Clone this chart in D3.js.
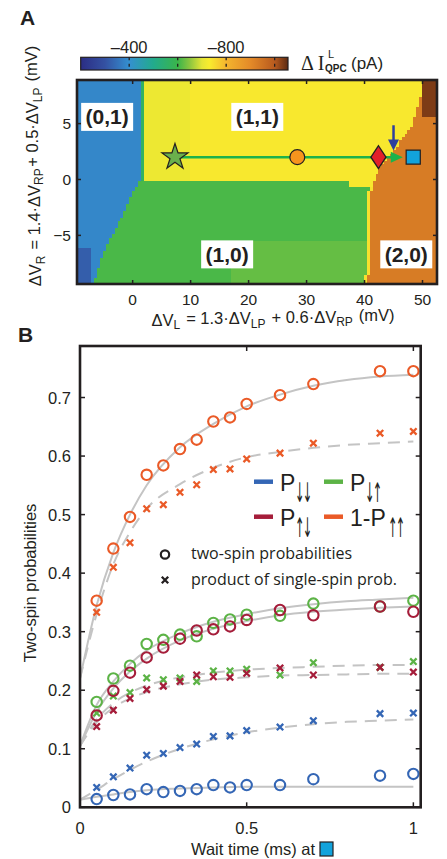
<!DOCTYPE html>
<html>
<head>
<meta charset="utf-8">
<script src="https://cdn.jsdelivr.net/npm/d3@7"></script>
<style>
  body { margin: 0; background: #fff; }
  svg { display: block; }
  text { font-family: "Liberation Sans", Arial, sans-serif; fill: #231f20; }
</style>
</head>
<body>
<svg id="fig" width="447" height="859"></svg>
<script>
// ---------- panel A : charge stability map ----------
var xDomainA = [-9.6, 52.5];
var yDomainA = [-9.35, 8.9];
var xTicksA = [0, 10, 20, 30, 40, 50];
var yTicksA = [-5, 0, 5];

// colour map of the colour bar (pA -> colour)
var cmapValues = [-200, -300, -400, -500, -600, -650, -700, -730, -800, -900, -1000, -1055];
var cmapColors = ["#2b2d84", "#3451a2", "#3490d0", "#22ab8c", "#3ab54a", "#8cc63f", "#e4e536", "#f8ec2e", "#f4b52e", "#e48a28", "#b85a1e", "#5c2a12"];
var cbarTicks = [-400, -600, -800, -1000];
var cbarLabels = [-400, -800];

// region boundaries (x in mV as a function of y in mV)
var leftEdgeY = [8.9, 0.2, -3.3, -6.2, -9.35];
var leftEdgeX = [1.3, 1.3, -1.9, -4.8, -6.8];
var rightEdgeY = [8.9, 7, 5, 4, 3, 2, 1, 0, -1, -9.35];
var rightEdgeX = [50, 49.5, 48.3, 47, 45.5, 44, 42.5, 41.7, 41.1, 40.6];
var midEdgeX = [37.5];          // where the (1,1)/(1,0) border steps down
var midEdgeY = [0.0, -0.8];
// mean signal of each charge state (pA)
var regionNames = ["(0,1)", "(1,1)", "(1,0)", "(2,0)"];
var regionLevels = [-385, -735, -610, -930];
var regionLabelX = [-4.4, 21.5, 16.3, 47.2];
var regionLabelY = [5.6, 5.6, -6.7, -6.7];
// finer shading seen inside the regions (pA)
var shadeBottomLeft = -320;
var shadeLeftYellow = -714;
var shadeGreenBorder = -565;
var shadeLowerGreen = -626;
var shadeYellowLine = -745;
var shadeBrownCorner = -1035;

// pulse sequence markers (mV)
var markerNames = ["star", "circle", "diamond", "square"];
var markerX = [7.3, 28.4, 42.4, 48.4];
var markerY = [2, 2, 2, 2];
var markerColors = ["#6ab04c", "#f7941d", "#e3202a", "#12a3dc"];
var arrowEndX = 46.6;
var blueArrowX = 45;
var blueArrowY = [4.85, 2.6];

// ---------- panel B : two-spin probabilities ----------
var waitTimes = [0.05, 0.1, 0.15, 0.2, 0.25, 0.3, 0.35, 0.4, 0.45, 0.5, 0.6, 0.7, 0.9, 1.0];
var pDD = [0.014, 0.021, 0.022, 0.031, 0.026, 0.028, 0.031, 0.038, 0.034, 0.038, 0.038, 0.048, 0.054, 0.057];
var pDDprod = [0.034, 0.052, 0.067, 0.089, 0.092, 0.102, 0.108, 0.121, 0.122, 0.131, 0.137, 0.148, 0.160, 0.161];
var pDU = [0.180, 0.220, 0.242, 0.279, 0.286, 0.295, 0.292, 0.315, 0.321, 0.329, 0.327, 0.348, 0.343, 0.353];
var pDUprod = [0.161, 0.190, 0.196, 0.221, 0.218, 0.221, 0.215, 0.233, 0.233, 0.236, 0.226, 0.247, 0.239, 0.249];
var pUD = [0.157, 0.199, 0.230, 0.256, 0.273, 0.288, 0.302, 0.304, 0.309, 0.320, 0.337, 0.328, 0.343, 0.334];
var pUDprod = [0.138, 0.166, 0.186, 0.201, 0.207, 0.215, 0.226, 0.223, 0.222, 0.229, 0.238, 0.226, 0.239, 0.231];
var pUU = [0.353, 0.442, 0.496, 0.568, 0.584, 0.612, 0.628, 0.659, 0.666, 0.689, 0.704, 0.723, 0.745, 0.745];
var pUUprod = [0.333, 0.410, 0.452, 0.510, 0.517, 0.538, 0.551, 0.577, 0.578, 0.595, 0.605, 0.622, 0.639, 0.642];

// fitted curves
var fitTimes = [0, 0.05, 0.1, 0.15, 0.2, 0.3, 0.4, 0.5, 0.6, 0.7, 0.8, 0.9, 1.0];
var fitDD = [0.013, 0.018, 0.022, 0.026, 0.029, 0.032, 0.034, 0.035, 0.0352, 0.0352, 0.0352, 0.0352, 0.0352];
var fitDDprod = [0.013, 0.030, 0.048, 0.064, 0.078, 0.100, 0.116, 0.128, 0.136, 0.142, 0.146, 0.148, 0.150];
var fitDU = [0.105, 0.175, 0.215, 0.245, 0.268, 0.297, 0.317, 0.330, 0.340, 0.347, 0.352, 0.355, 0.358];
var fitDUprod = [0.105, 0.150, 0.178, 0.196, 0.208, 0.222, 0.230, 0.235, 0.238, 0.240, 0.242, 0.243, 0.243];
var fitUD = [0.105, 0.163, 0.203, 0.232, 0.254, 0.285, 0.305, 0.318, 0.328, 0.334, 0.338, 0.341, 0.343];
var fitUDprod = [0.105, 0.145, 0.170, 0.186, 0.197, 0.210, 0.218, 0.222, 0.225, 0.226, 0.227, 0.228, 0.228];
var fitUU = [0.22, 0.345, 0.435, 0.50, 0.55, 0.615, 0.655, 0.685, 0.705, 0.72, 0.73, 0.736, 0.739];
var fitUUprod = [0.22, 0.33, 0.415, 0.47, 0.51, 0.552, 0.58, 0.598, 0.607, 0.614, 0.619, 0.622, 0.625];

var xDomainB = [0, 1.022];
var yDomainB = [0, 0.788];
var xTicksB = [0, 0.5, 1];
var yTicksB = [0, 0.1, 0.2, 0.3, 0.4, 0.5, 0.6, 0.7];

var seriesColors = { dd: "#3466b5", du: "#5cb346", ud: "#a51d3a", uu: "#ea5a27" };
var fitColor = "#c4c4c4";
var ink = "#231f20";

var svg = d3.select("#fig");

// ======================= PANEL A =======================
var boxA = { left: 77, right: 437, top: 80, bottom: 284 };
var xA = d3.scaleLinear().domain(xDomainA).range([boxA.left, boxA.right]);
var yA = d3.scaleLinear().domain(yDomainA).range([boxA.bottom, boxA.top]);
var cmap = d3.scaleLinear().domain(cmapValues).range(cmapColors).clamp(true);

var leftEdge = d3.scaleLinear().domain(leftEdgeY).range(leftEdgeX);
var rightEdge = d3.scaleLinear().domain(rightEdgeY).range(rightEdgeX);

function signalAt(x, y) {
  var lb = leftEdge(y), rb = rightEdge(y);
  var mid = x < midEdgeX[0] ? midEdgeY[0] : midEdgeY[1];
  var v;
  if (x < lb) {
    v = regionLevels[0];
    if (x < -7.3 && y < -6) v = shadeBottomLeft;
  } else if (x > rb) {
    v = regionLevels[3];
    if (x > 49.8 && y > 5.5) v = shadeBrownCorner;
  } else if (y > mid) {
    v = x < 10 ? shadeLeftYellow : regionLevels[1];
    if (x - lb < 0.6) v = shadeGreenBorder;
  } else {
    v = regionLevels[2];
    if (x > 17 && y < -5.5) v = shadeLowerGreen;
    if (rb - x < 0.5) v = shadeYellowLine;
  }
  return v;
}

var dx = 0.5, dy = 0.3;
var cells = [];
for (var cx = xDomainA[0]; cx < xDomainA[1]; cx += dx) {
  for (var cy = yDomainA[0]; cy < yDomainA[1]; cy += dy) {
    cells.push({ x0: cx, y0: cy, v: signalAt(cx + dx / 2, cy + dy / 2) });
  }
}

svg.append("clipPath").attr("id", "clipA")
  .append("rect").attr("x", boxA.left).attr("y", boxA.top)
  .attr("width", boxA.right - boxA.left).attr("height", boxA.bottom - boxA.top);

var heat = svg.append("g").attr("clip-path", "url(#clipA)");
heat.selectAll("rect")
  .data(cells)
  .enter().append("rect")
  .attr("x", function(d) { return xA(d.x0); })
  .attr("y", function(d) { return yA(d.y0 + dy); })
  .attr("width", xA(dx) - xA(0) + 0.6)
  .attr("height", yA(0) - yA(dy) + 0.6)
  .attr("fill", function(d) { return cmap(d.v); })
  .attr("shape-rendering", "crispEdges");

// pulse path line + arrow
var gMark = svg.append("g");
gMark.append("line")
  .attr("x1", xA(markerX[0])).attr("y1", yA(markerY[0]))
  .attr("x2", xA(arrowEndX) - 8).attr("y2", yA(markerY[0]))
  .attr("stroke", "#1db24b").attr("stroke-width", 2.5);
gMark.append("path")
  .attr("d", "M" + (xA(arrowEndX) - 12) + "," + (yA(markerY[0]) - 5.5) +
    "L" + xA(arrowEndX) + "," + yA(markerY[0]) +
    "L" + (xA(arrowEndX) - 12) + "," + (yA(markerY[0]) + 5.5) + "Z")
  .attr("fill", "#1db24b");

// blue arrow
gMark.append("line")
  .attr("x1", xA(blueArrowX)).attr("y1", yA(blueArrowY[0]))
  .attr("x2", xA(blueArrowX)).attr("y2", yA(blueArrowY[1]) - 8)
  .attr("stroke", "#2e3f9e").attr("stroke-width", 2.5);
gMark.append("path")
  .attr("d", "M" + (xA(blueArrowX) - 5.5) + "," + (yA(blueArrowY[1]) - 11) +
    "L" + xA(blueArrowX) + "," + yA(blueArrowY[1]) +
    "L" + (xA(blueArrowX) + 5.5) + "," + (yA(blueArrowY[1]) - 11) + "Z")
  .attr("fill", "#2e3f9e");

var symbolTypes = [d3.symbolStar, d3.symbolCircle, d3.symbolDiamond, d3.symbolSquare];
var symbolSizes = [210, 175, 150, 200];
gMark.selectAll("path.mk")
  .data(markerNames)
  .enter().append("path")
  .attr("class", "mk")
  .attr("transform", function(d, i) {
    var sc = d === "diamond" ? " scale(1.15,1)" : "";
    return "translate(" + xA(markerX[i]) + "," + yA(markerY[i]) + ")" + sc;
  })
  .attr("d", function(d, i) { return d3.symbol().type(symbolTypes[i]).size(symbolSizes[i])(); })
  .attr("fill", function(d, i) { return markerColors[i]; })
  .attr("stroke", ink).attr("stroke-width", 1.2);

// region labels
var lab = svg.append("g").selectAll("g")
  .data(regionNames)
  .enter().append("g")
  .attr("transform", function(d, i) { return "translate(" + xA(regionLabelX[i]) + "," + yA(regionLabelY[i]) + ")"; });
lab.append("rect").attr("x", -26).attr("y", -14).attr("width", 52).attr("height", 28).attr("fill", "#fff");
lab.append("text")
  .attr("text-anchor", "middle").attr("y", 7.5)
  .style("font-size", "21px").style("font-weight", "bold")
  .text(function(d) { return d; });

// frame + ticks
var axA = svg.append("g");
axA.append("rect")
  .attr("x", boxA.left).attr("y", boxA.top)
  .attr("width", boxA.right - boxA.left).attr("height", boxA.bottom - boxA.top)
  .attr("fill", "none").attr("stroke", ink).attr("stroke-width", 2.6);
xTicksA.forEach(function(t) {
  axA.append("line").attr("x1", xA(t)).attr("x2", xA(t)).attr("y1", boxA.bottom).attr("y2", boxA.bottom - 4).attr("stroke", ink).attr("stroke-width", 1.5);
  axA.append("line").attr("x1", xA(t)).attr("x2", xA(t)).attr("y1", boxA.top).attr("y2", boxA.top + 4).attr("stroke", ink).attr("stroke-width", 1.5);
  axA.append("text").attr("x", xA(t)).attr("y", 304.5).attr("text-anchor", "middle").style("font-size", "15.5px").text(t);
});
yTicksA.forEach(function(t) {
  axA.append("line").attr("x1", boxA.left).attr("x2", boxA.left + 4).attr("y1", yA(t)).attr("y2", yA(t)).attr("stroke", ink).attr("stroke-width", 1.5);
  axA.append("line").attr("x1", boxA.right).attr("x2", boxA.right - 4).attr("y1", yA(t)).attr("y2", yA(t)).attr("stroke", ink).attr("stroke-width", 1.5);
  axA.append("text").attr("x", 71).attr("y", yA(t) + 5.5).attr("text-anchor", "end").style("font-size", "15.5px").text(String(t).replace("-", "\u2212"));
});

function labelWithSubs(sel, parts, subSize) {
  parts.forEach(function(p) {
    if (p.sub) {
      sel.append("tspan").attr("dy", "0.3em").style("font-size", subSize).text(p.sub);
      sel.append("tspan").attr("dy", "-0.3em").text("\u200a");
    } else {
      sel.append("tspan").text(p.t);
    }
  });
}

var xlabA = svg.append("text").attr("x", 273).attr("y", 325.5).attr("text-anchor", "middle").style("font-size", "16.5px");
labelWithSubs(xlabA, [{ t: "\u0394V" }, { sub: "L" }, { t: " = 1.3\u00b7\u0394V" }, { sub: "LP" }, { t: " + 0.6\u00b7\u0394V" }, { sub: "RP" }, { t: " (mV)" }], "12px");

var ylabA = svg.append("text").attr("transform", "translate(41,166) rotate(-90)").attr("text-anchor", "middle").style("font-size", "16.5px");
labelWithSubs(ylabA, [{ t: "\u0394V" }, { sub: "R" }, { t: " = 1.4\u00b7\u0394V" }, { sub: "RP" }, { t: "+ 0.5\u00b7\u0394V" }, { sub: "LP" }, { t: " (mV)" }], "12px");

// colour bar
var cbar = { left: 80.7, right: 288, top: 57.3, bottom: 70 };
var xC = d3.scaleLinear().domain([cmapValues[0], cmapValues[cmapValues.length - 1]]).range([cbar.left, cbar.right]);
var grad = svg.append("defs").append("linearGradient").attr("id", "cbgrad");
grad.selectAll("stop")
  .data(cmapValues)
  .enter().append("stop")
  .attr("offset", function(d) { return (xC(d) - cbar.left) / (cbar.right - cbar.left); })
  .attr("stop-color", function(d, i) { return cmapColors[i]; });
svg.append("rect")
  .attr("x", cbar.left).attr("y", cbar.top)
  .attr("width", cbar.right - cbar.left).attr("height", cbar.bottom - cbar.top)
  .attr("fill", "url(#cbgrad)").attr("stroke", ink).attr("stroke-width", 1.2);
cbarTicks.forEach(function(t) {
  svg.append("line").attr("x1", xC(t)).attr("x2", xC(t)).attr("y1", cbar.top).attr("y2", cbar.bottom)
    .attr("stroke", ink).attr("stroke-width", 1.3).attr("stroke-dasharray", "3,3.4");
});
cbarLabels.forEach(function(t) {
  svg.append("text").attr("x", xC(t)).attr("y", 53).attr("text-anchor", "middle").style("font-size", "16.5px")
    .text(String(t).replace("-", "\u2013"));
});
svg.append("text").attr("x", 301).attr("y", 70).style("font-family", "'Liberation Serif', serif").style("font-size", "20px").text("\u0394\u2009I");
svg.append("text").attr("x", 328).attr("y", 58).style("font-size", "11px").text("L");
svg.append("text").attr("x", 325).attr("y", 72).style("font-size", "10px").style("font-weight", "bold").text("QPC");
svg.append("text").attr("x", 351).attr("y", 69).style("font-size", "17px").text("(pA)");

svg.append("text").attr("x", 20).attr("y", 25).style("font-size", "21px").style("font-weight", "bold").text("A");
svg.append("text").attr("x", 18).attr("y", 342).style("font-size", "21px").style("font-weight", "bold").text("B");

// ======================= PANEL B =======================
var boxB = { left: 80, right: 420.7, top: 346, bottom: 807.3 };
var xB = d3.scaleLinear().domain(xDomainB).range([boxB.left, boxB.right]);
var yB = d3.scaleLinear().domain(yDomainB).range([boxB.bottom, boxB.top]);

var fits = [
  { v: fitDD, dash: false }, { v: fitDDprod, dash: true },
  { v: fitDU, dash: false }, { v: fitDUprod, dash: true },
  { v: fitUD, dash: false }, { v: fitUDprod, dash: true },
  { v: fitUU, dash: false }, { v: fitUUprod, dash: true }
];
var fitLine = d3.line()
  .x(function(d, i) { return xB(fitTimes[i]); })
  .y(function(d) { return yB(d); })
  .curve(d3.curveMonotoneX);

var gB = svg.append("g");
gB.selectAll("path.fit")
  .data(fits)
  .enter().append("path")
  .attr("class", "fit")
  .attr("d", function(d) { return fitLine(d.v); })
  .attr("fill", "none").attr("stroke", fitColor).attr("stroke-width", 2)
  .attr("stroke-dasharray", function(d) { return d.dash ? "12,8" : null; });

var series = [
  { v: pDD, c: seriesColors.dd, mark: "o" }, { v: pDDprod, c: seriesColors.dd, mark: "x" },
  { v: pDU, c: seriesColors.du, mark: "o" }, { v: pDUprod, c: seriesColors.du, mark: "x" },
  { v: pUD, c: seriesColors.ud, mark: "o" }, { v: pUDprod, c: seriesColors.ud, mark: "x" },
  { v: pUU, c: seriesColors.uu, mark: "o" }, { v: pUUprod, c: seriesColors.uu, mark: "x" }
];
series.forEach(function(s) {
  var g = gB.append("g");
  if (s.mark === "o") {
    g.selectAll("circle").data(s.v).enter().append("circle")
      .attr("cx", function(d, i) { return xB(waitTimes[i]); })
      .attr("cy", function(d) { return yB(d); })
      .attr("r", 5.2)
      .attr("fill", "none").attr("stroke", s.c).attr("stroke-width", 2.1);
  } else {
    g.selectAll("path").data(s.v).enter().append("path")
      .attr("transform", function(d, i) { return "translate(" + xB(waitTimes[i]) + "," + yB(d) + ")"; })
      .attr("d", "M-3.2,-3.2L3.2,3.2M-3.2,3.2L3.2,-3.2")
      .attr("stroke", s.c).attr("stroke-width", 2.3);
  }
});

// frame + ticks
var axB = svg.append("g");
axB.append("rect")
  .attr("x", boxB.left).attr("y", boxB.top)
  .attr("width", boxB.right - boxB.left).attr("height", boxB.bottom - boxB.top)
  .attr("fill", "none").attr("stroke", ink).attr("stroke-width", 2.6);
xTicksB.forEach(function(t) {
  axB.append("line").attr("x1", xB(t)).attr("x2", xB(t)).attr("y1", boxB.bottom).attr("y2", boxB.bottom - 5).attr("stroke", ink).attr("stroke-width", 1.5);
  axB.append("line").attr("x1", xB(t)).attr("x2", xB(t)).attr("y1", boxB.top).attr("y2", boxB.top + 5).attr("stroke", ink).attr("stroke-width", 1.5);
  axB.append("text").attr("x", xB(t)).attr("y", 834).attr("text-anchor", "middle").style("font-size", "16.5px").text(t);
});
yTicksB.forEach(function(t) {
  axB.append("line").attr("x1", boxB.left).attr("x2", boxB.left + 5).attr("y1", yB(t)).attr("y2", yB(t)).attr("stroke", ink).attr("stroke-width", 1.5);
  axB.append("line").attr("x1", boxB.right).attr("x2", boxB.right - 5).attr("y1", yB(t)).attr("y2", yB(t)).attr("stroke", ink).attr("stroke-width", 1.5);
  axB.append("text").attr("x", 71).attr("y", yB(t) + 6).attr("text-anchor", "end").style("font-size", "16.5px").text(t);
});

svg.append("text").attr("transform", "translate(36,583) rotate(-90)").attr("text-anchor", "middle")
  .style("font-size", "16.5px").text("Two-spin probabilities");
svg.append("text").attr("x", 315).attr("y", 855).attr("text-anchor", "end")
  .style("font-size", "16.5px").text("Wait time (ms) at");
svg.append("rect").attr("x", 320).attr("y", 842).attr("width", 13).attr("height", 14)
  .attr("fill", markerColors[3]).attr("stroke", ink).attr("stroke-width", 1.2);

// legend
var legendNames = [
  { c: seriesColors.dd, pre: "", sub: "\u2193\ufe0e\u2193\ufe0e", x: 254, y: 481.7 },
  { c: seriesColors.du, pre: "", sub: "\u2193\ufe0e\u2191\ufe0e", x: 324, y: 481.7 },
  { c: seriesColors.ud, pre: "", sub: "\u2191\ufe0e\u2193\ufe0e", x: 254, y: 516.7 },
  { c: seriesColors.uu, pre: "1-", sub: "\u2191\ufe0e\u2191\ufe0e", x: 324, y: 516.7 }
];
var leg = svg.append("g").selectAll("g")
  .data(legendNames)
  .enter().append("g")
  .attr("transform", function(d) { return "translate(" + d.x + "," + d.y + ")"; });
leg.append("line").attr("x1", 0).attr("x2", 19).attr("stroke", function(d) { return d.c; }).attr("stroke-width", 4.5);
leg.append("text").attr("x", 26).attr("y", 9).style("font-size", "23px")
  .text(function(d) { return d.pre + "P"; });
// subscript spin arrows, squeezed horizontally to the narrow glyphs of the original
leg.append("text")
  .attr("transform", function(d) { return "translate(" + (d.pre ? 64 : 41) + ",20) scale(0.42,1)"; })
  .style("fill", ink)
  .style("font-family", "'DejaVu Sans', sans-serif")
  .style("font-size", "27px")
  .style("letter-spacing", "-4px")
  .text(function(d) { return d.sub; });

svg.append("circle").attr("cx", 165).attr("cy", 554.5).attr("r", 4.2).attr("fill", "none").attr("stroke", ink).attr("stroke-width", 2.2);
svg.append("path").attr("transform", "translate(165,580)").attr("d", "M-3.2,-3.2L3.2,3.2M-3.2,3.2L3.2,-3.2")
  .attr("stroke", ink).attr("stroke-width", 2.3);
svg.append("text").attr("x", 191).attr("y", 559).style("font-family", "'Open Sans', sans-serif").style("font-size", "16px").text("two-spin probabilities");
svg.append("text").attr("x", 191).attr("y", 585).style("font-family", "'Open Sans', sans-serif").style("font-size", "16px").text("product of single-spin prob.");
</script>
</body>
</html>
